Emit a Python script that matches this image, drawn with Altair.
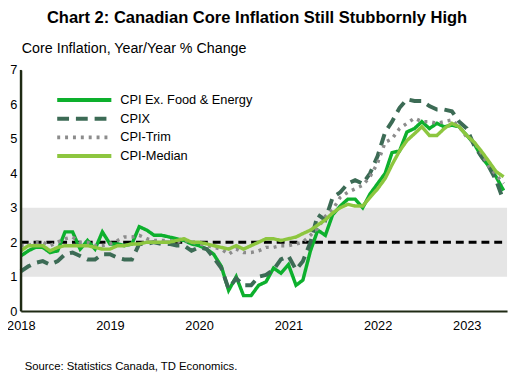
import altair as alt
import pandas as pd

# ---- data (monthly, Jan 2018 - Jun 2023) ----
months = pd.date_range("2018-01-01", periods=66, freq="MS").strftime("%Y-%m-%d").tolist()

cpi_ex_fe = [1.6, 1.75, 1.85, 1.85, 1.7, 1.75, 2.3, 2.3, 1.8, 2.05, 1.8, 2.3,
             1.95, 1.95, 1.9, 1.95, 2.45, 2.35, 2.2, 2.2, 2.15, 2.1, 2.05, 1.95,
             1.9, 1.8, 1.65, 1.3, 0.6, 1.0, 0.45, 0.45, 0.75, 0.85, 1.25, 1.1,
             1.35, 0.75, 0.9, 1.75, 2.35, 2.2, 2.8, 3.05, 3.25, 3.25, 3.0, 3.4,
             3.7, 4.0, 4.6, 4.65, 5.2, 5.3, 5.5, 5.3, 5.45, 5.35, 5.4, 5.35,
             5.1, 4.85, 4.5, 4.2, 3.9, 3.5]
cpix = [1.15, 1.3, 1.4, 1.45, 1.35, 1.45, 1.65, 1.7, 1.6, 1.5, 1.5, 1.65,
        1.65, 1.55, 1.5, 1.5, 1.95, 1.95, 2.0, 1.95, 1.95, 1.9, 1.9, 1.75,
        1.85, 1.8, 1.55, 1.25, 0.65, 0.95, 0.75, 0.75, 1.0, 1.05, 1.2, 1.5,
        1.6, 1.2, 1.45, 2.0, 2.8, 2.65, 3.3, 3.45, 3.7, 3.8, 3.7, 4.0,
        4.5, 5.2, 5.5, 5.9, 6.15, 6.1, 6.1, 5.95, 5.85, 5.85, 5.8, 5.5,
        5.3, 4.8, 4.5, 4.2, 3.8, 3.2]
cpi_trim = [1.9, 1.9, 2.0, 2.0, 1.9, 2.0, 2.1, 2.15, 2.0, 2.0, 1.9, 1.9,
            1.95, 2.05, 2.15, 2.15, 2.2, 2.1, 2.05, 2.05, 2.05, 2.0, 2.05, 2.0,
            1.95, 1.9, 1.85, 1.8, 1.65, 1.8, 1.7, 1.7, 1.75, 1.85, 1.85, 1.9,
            1.9, 1.95, 2.0, 2.2, 2.4, 2.75, 2.95, 3.3, 3.45, 3.55, 3.65, 3.9,
            4.3, 4.9, 5.0, 5.3, 5.45, 5.6, 5.5, 5.5, 5.45, 5.5, 5.55, 5.35,
            5.05, 4.9, 4.6, 4.2, 3.95, 3.7]
cpi_median = [1.75, 1.9, 1.9, 1.9, 1.75, 1.85, 1.9, 1.9, 1.9, 1.9, 1.85, 1.8,
              1.8, 1.9, 1.9, 1.95, 1.95, 2.0, 2.0, 2.0, 2.0, 2.05, 2.1, 2.0,
              2.0, 1.95, 1.9, 1.85, 1.8, 1.9, 1.8, 1.9, 2.0, 2.1, 2.1, 2.05,
              2.1, 2.15, 2.25, 2.35, 2.5, 2.65, 2.85, 3.0, 3.1, 3.05, 3.05, 3.3,
              3.55, 3.85, 4.25, 4.65, 4.95, 5.15, 5.35, 5.1, 5.1, 5.3, 5.45, 5.35,
              5.1, 4.9, 4.65, 4.35, 4.05, 3.9]

series_names = ["CPI Ex. Food & Energy", "CPIX", "CPI-Trim", "CPI-Median"]
series_values = [cpi_ex_fe, cpix, cpi_trim, cpi_median]
colors = ["#0DB02D", "#3C6B55", "#8C8C8C", "#8DC63F"]
dashes = [[1, 0], [12, 7], [3, 5], [1, 0]]
widths = [3.5, 4, 3.5, 3.5]

target_low, target_mid, target_high = [1], [2], [3]
y_ticks = [0, 1, 2, 3, 4, 5, 6, 7]
year_ticks = ["2018-01-01", "2019-01-01", "2020-01-01", "2021-01-01", "2022-01-01", "2023-01-01"]

title_text = "Chart 2: Canadian Core Inflation  Still  Stubbornly High"
subtitle_text = "Core Inflation,  Year/Year  % Change"
source_text = "Source:  Statistics  Canada,  TD  Economics."

W, H = 494, 245
FONT = "Liberation Sans"

rows = []
for name, vals in zip(series_names, series_values):
    for d, v in zip(months, vals):
        rows.append({"date": d, "value": v, "series": name})
df = pd.DataFrame(rows)

x_scale = alt.Scale(type="utc", domain=["2018-01-01", "2023-06-15"])
y_scale = alt.Scale(domain=[0, 7])

axis_col = "#1F2A14"
y_axis = alt.Axis(values=y_ticks, ticks=False, tickSize=0, labelPadding=4,
                  labelOverlap=False, domain=True, grid=False, title=None, zindex=1)
x_axis = alt.Axis(values=year_ticks, format="%Y", formatType="utc",
                  ticks=False, tickSize=0, labelPadding=9, labelOverlap=False,
                  domain=True, grid=False, title=None, labelFlush=False, zindex=1)

band = alt.Chart(pd.DataFrame({"lo": target_low, "hi": target_high})).mark_rect(
    color="#E5E5E5"
).encode(
    x=alt.value(0), x2=alt.value(W),
    y=alt.Y("lo:Q", scale=y_scale, axis=y_axis),
    y2="hi:Q",
)

target = alt.Chart(pd.DataFrame({"t": target_mid})).mark_rule(
    color="#000", strokeWidth=3, strokeDash=[8, 5]
).encode(y=alt.Y("t:Q", scale=y_scale, axis=y_axis), x=alt.value(0), x2=alt.value(W))

# explicit vertical axis line (left spine)
spine = alt.Chart(pd.DataFrame({"lo": [y_ticks[0]], "hi": [y_ticks[-1]]})).mark_rule(
    color=axis_col, strokeWidth=2
).encode(x=alt.value(0), y=alt.Y("lo:Q", scale=y_scale, axis=y_axis), y2="hi:Q")

legend = alt.Legend(orient="none", legendX=35, legendY=23, title=None,
                    symbolType="M-1,0H9", symbolSize=121,
                    symbolStrokeWidth=4, labelFontSize=13,
                    labelFont=FONT, labelColor="#000",
                    labelOffset=51, rowPadding=2, padding=0)
color_enc = alt.Color("series:N", scale=alt.Scale(domain=series_names, range=colors),
                      legend=legend)
dash_enc = alt.StrokeDash("series:N", scale=alt.Scale(domain=series_names, range=dashes),
                          legend=legend)

lines = []
for name, w in zip(series_names, widths):
    lines.append(
        alt.Chart(df).transform_filter(alt.datum.series == name).mark_line(
            strokeWidth=w, strokeJoin="miter"
        ).encode(
            x=alt.X("date:T", scale=x_scale, axis=x_axis),
            y=alt.Y("value:Q", scale=y_scale, axis=y_axis),
            color=color_enc,
            strokeDash=dash_enc,
        )
    )

def text_layer(txt, x, y, **kw):
    return alt.Chart(pd.DataFrame({"t": [txt]})).mark_text(
        font=FONT, color="#000", **kw
    ).encode(text="t:N", x=alt.value(x), y=alt.value(y))

title = text_layer(title_text, 240, -48, fontSize=16.8, fontWeight="bold", align="center", baseline="alphabetic")
subtitle = text_layer(subtitle_text, 1, -21, fontSize=14.5, align="left", baseline="middle")
source = text_layer(source_text, 4, 302, fontSize=11.5, align="left", baseline="middle")

chart = alt.layer(band, target, *lines, spine, title, subtitle, source).properties(
    width=W, height=H,
    autosize=alt.AutoSizeParams(type="none"),
    padding={"left": 13, "top": 60, "right": 3, "bottom": 64},
).configure_view(stroke=None).configure_axis(
    domainColor=axis_col, domainWidth=2, tickSize=0, ticks=False,
    labelFontSize=13, labelFont=FONT, labelColor="#000",
)

chart.save("out.html", embed_options={"renderer": "svg", "actions": False})
